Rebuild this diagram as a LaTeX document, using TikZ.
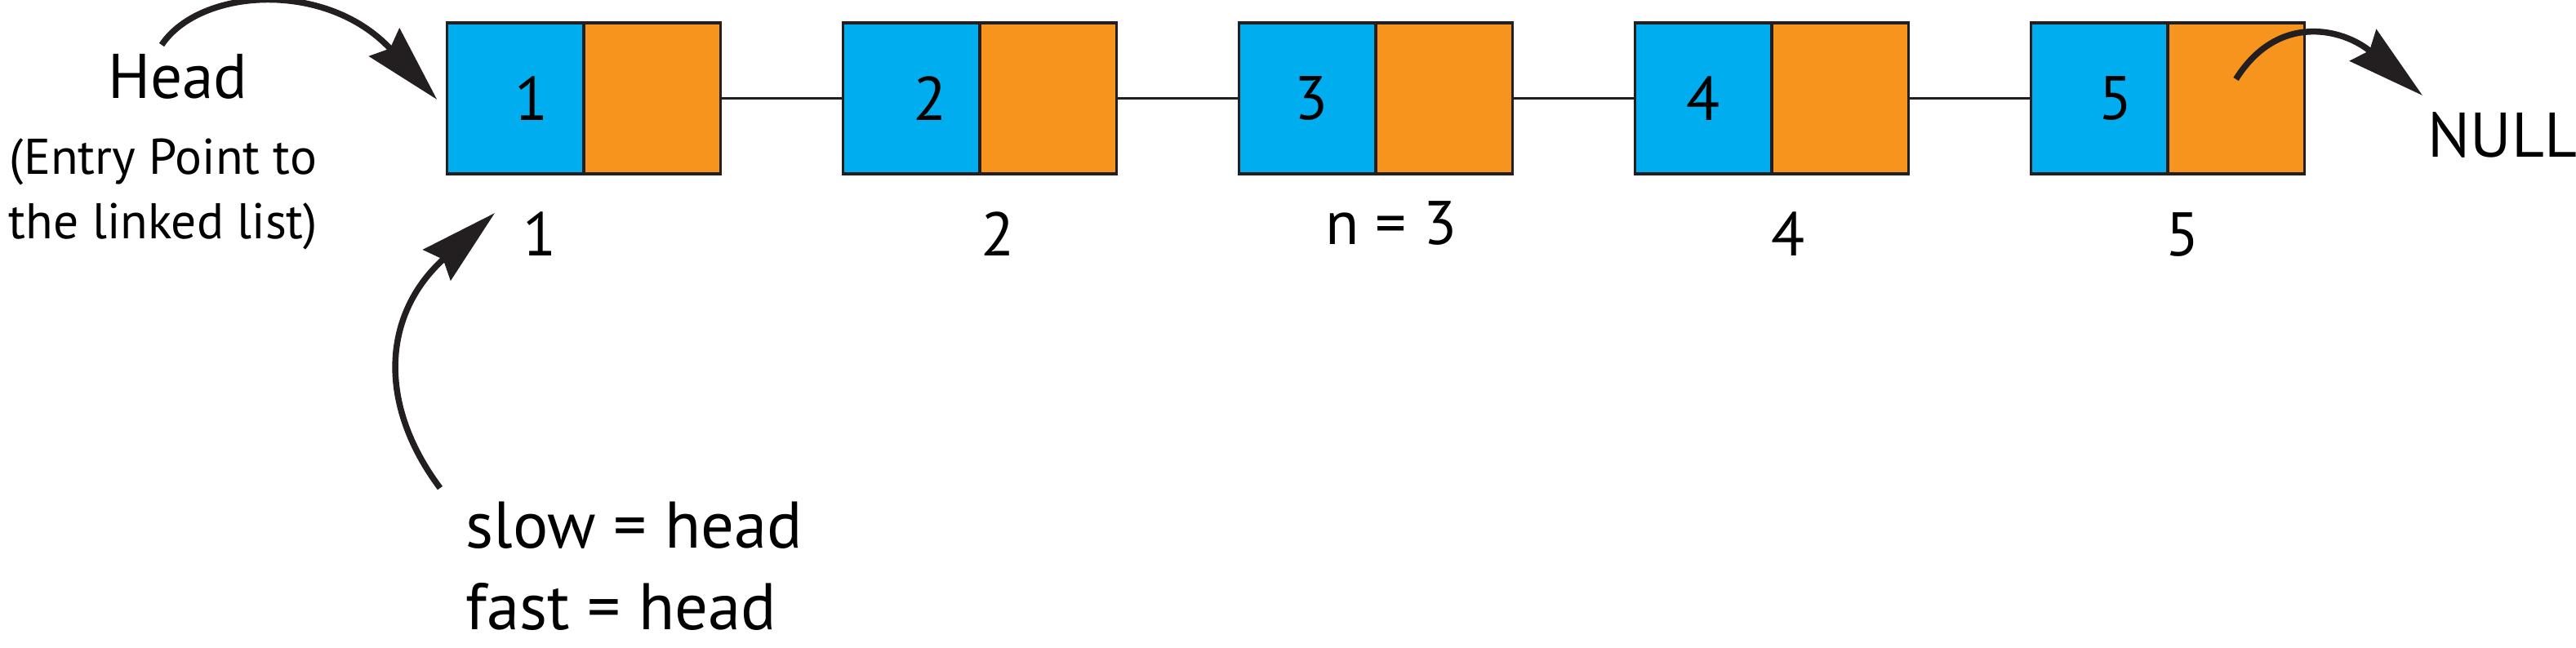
\documentclass[tikz,border=0pt]{standalone}
\usepackage{fontspec}
\setmainfont{PT Sans}
\usetikzlibrary{positioning,arrows.meta}
\definecolor{cellblue}{HTML}{00AEEF}
\definecolor{cellorange}{HTML}{F7941D}
\definecolor{inkdark}{HTML}{231F20}

\begin{document}
\begin{tikzpicture}[
    cell/.style={draw=inkdark, line width=0.035cm, minimum width=1.675cm, minimum height=1.85cm, inner sep=0pt, outer sep=0pt},
    datacell/.style={cell, fill=cellblue},
    nextcell/.style={cell, fill=cellorange},
    link/.style={draw=inkdark, line width=0.03cm},
    pointer/.style={draw=inkdark, line width=0.075cm, -{Stealth[length=0.95cm,width=0.5cm,inset=0.1cm]}},
    txt/.style={font=\fontsize{21.5}{25}\selectfont, inner sep=0pt},
    bigtxt/.style={font=\fontsize{22}{26}\selectfont, inner sep=0pt},
    codetxt/.style={font=\fontsize{23}{27}\selectfont, inner sep=0pt}
]
    \useasboundingbox (0,0) rectangle (31.55,7.94);

    \node[datacell] (d1) at (6.31,6.735) {};
    \node[nextcell, right=0pt of d1] (n1) {};
    \foreach \i [count=\j] in {2,...,5} {
        \node[datacell, right=1.5cm of n\j] (d\i) {};
        \node[nextcell, right=0pt of d\i] (n\i) {};
        \draw[link] (n\j.east) -- (d\i.west);
    }

    \foreach \i/\dx in {1/0.2,2/0.23,3/0.05,4/0,5/0.2}
        \node[txt] (v\i) at ([xshift=\dx cm]d\i.center) {\i};

    \foreach \i/\x in {1/6.61,2/12.22,4/21.90,5/26.73}
        \node[txt, anchor=base] (i\i) at (\x,4.80) {\i};
    \node[txt, anchor=base] (i3) at (17.04,4.94) {n = 3};

    \node[bigtxt, anchor=base] (head) at (2.18,6.73) {Head};
    \node[inner sep=0pt, anchor=base, align=center, font=\fontsize{17.5}{22.7}\selectfont] (entry) at (2.00,5.01) {(Entry Point to\\the linked list)};
    \node[bigtxt, anchor=base west] (null) at (29.73,6.01) {NULL};
    \node[codetxt, anchor=base west] (slow) at (5.70,1.22) {slow = head};
    \node[codetxt, anchor=base west] (fast) at (5.70,0.22) {fast = head};

    \coordinate (headtail) at ([shift={(-0.20,0.66)}]head.base);
    \coordinate (headtip) at ([xshift=-0.12cm,yshift=-0.015cm]d1.west);
    \draw[pointer] (headtail) .. controls (2.45,8.09) and (4.00,8.19) .. (headtip);

    \coordinate (slowtail) at ([shift={(-0.31,0.74)}]slow.base west);
    \coordinate (slowtip) at (6.06,5.33);
    \draw[pointer] (slowtail) .. controls (4.62,2.99) and (4.68,4.09) .. (slowtip);

    \coordinate (nulltail) at ([yshift=0.235cm]n5.center);
    \coordinate (nulltip) at ([shift={(-0.06,0.76)}]null.base west);
    \draw[pointer] (nulltail) .. controls (27.90,7.79) and (28.70,7.59) .. (nulltip);
\end{tikzpicture}
\end{document}
